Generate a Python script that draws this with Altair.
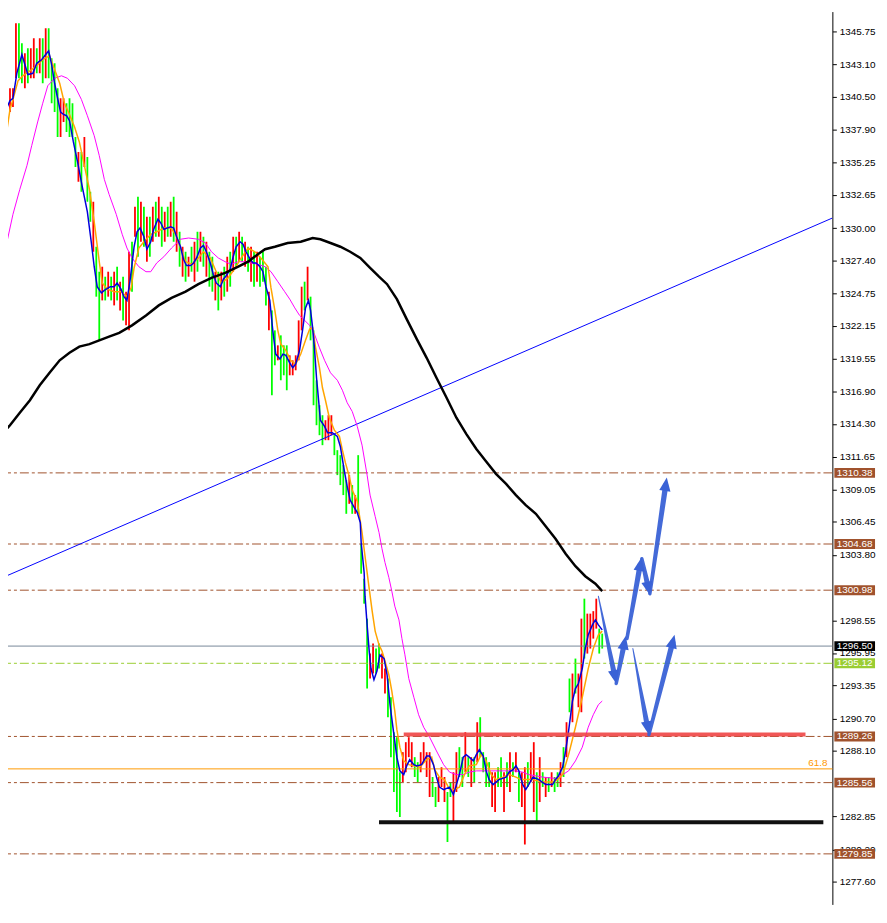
import math
import altair as alt
import pandas as pd

# ---------------- scales (plot area = reference pixels 8..839 x 8..908) ----------------
Y_MIN, Y_MAX = 1275.80, 1347.344
X_MIN, X_MAX = 7 / 3, 838 / 3
W, H = 831, 900

# ---------------- price bars (bar index = position in list) ----------------
bar_high = [
    1340.8, 1341.6, 1340.4, 1341.2, 1341.2, 1346.4, 1346.4, 1344.8, 1344.0, 1344.4,
    1344.4, 1345.2, 1344.4, 1345.2, 1345.2, 1346.0, 1346.0, 1343.6, 1343.2, 1341.2,
    1340.4, 1340.4, 1340.0, 1340.4, 1340.0, 1337.3, 1336.1, 1336.1, 1337.3, 1335.7,
    1332.9, 1332.1, 1328.5, 1326.5, 1326.9, 1326.1, 1326.5, 1326.1, 1326.5, 1326.9,
    1325.7, 1326.1, 1324.9, 1328.1, 1328.9, 1331.7, 1332.5, 1332.1, 1331.7, 1330.9,
    1330.9, 1331.7, 1332.1, 1332.5, 1331.7, 1331.3, 1331.7, 1332.1, 1332.5, 1331.3,
    1329.7, 1328.5, 1328.1, 1327.7, 1328.5, 1328.9, 1329.7, 1329.7, 1329.3, 1328.9,
    1328.1, 1327.7, 1326.5, 1326.5, 1326.5, 1326.9, 1327.7, 1328.1, 1329.3, 1329.3,
    1329.7, 1329.3, 1328.9, 1328.5, 1328.5, 1328.1, 1328.1, 1327.7, 1328.1, 1326.9,
    1324.9, 1323.4, 1321.8, 1320.6, 1321.4, 1320.6, 1320.6, 1319.8, 1319.4, 1319.8,
    1322.6, 1325.3, 1325.7, 1326.9, 1324.5, 1321.8, 1317.8, 1315.8, 1315.0, 1314.6,
    1315.0, 1315.0, 1313.4, 1312.2, 1311.8, 1311.0, 1309.8, 1310.2, 1309.4, 1308.6,
    1311.8, 1304.7, 1301.9, 1298.7, 1295.9, 1296.7, 1296.3, 1296.7, 1295.9, 1294.7,
    1293.9, 1292.4, 1289.6, 1289.2, 1286.4, 1288.0, 1288.8, 1289.2, 1288.8, 1287.6,
    1287.2, 1288.0, 1288.8, 1288.0, 1288.0, 1286.0, 1285.2, 1286.0, 1286.8, 1286.0,
    1284.8, 1285.6, 1286.4, 1288.0, 1288.4, 1287.6, 1289.6, 1287.6, 1287.6, 1287.6,
    1290.4, 1290.8, 1288.0, 1287.6, 1287.2, 1286.4, 1286.4, 1286.8, 1287.6, 1286.4,
    1287.2, 1288.0, 1287.2, 1288.0, 1286.4, 1286.4, 1286.8, 1287.2, 1288.0, 1288.8,
    1286.4, 1287.6, 1286.4, 1286.0, 1286.0, 1286.4, 1286.0, 1286.4, 1287.2, 1288.4,
    1290.4, 1293.9, 1294.3, 1295.5, 1294.3, 1298.7, 1300.3, 1299.1, 1299.1, 1299.3,
    1300.3, 1297.9, 1297.5,
]
bar_low = [
    1336.9, 1339.3, 1339.3, 1339.3, 1339.7, 1342.0, 1342.0, 1341.6, 1341.2, 1341.6,
    1342.0, 1342.0, 1342.4, 1342.4, 1341.6, 1342.0, 1342.0, 1340.0, 1339.3, 1337.3,
    1337.3, 1338.5, 1337.7, 1337.3, 1337.3, 1334.9, 1333.7, 1332.9, 1334.9, 1332.1,
    1330.5, 1328.1, 1324.5, 1321.0, 1324.2, 1324.2, 1324.5, 1324.2, 1323.8, 1324.2,
    1323.4, 1322.6, 1322.2, 1321.8, 1324.9, 1329.3, 1327.7, 1328.9, 1328.5, 1327.3,
    1327.7, 1328.9, 1329.3, 1329.3, 1328.5, 1328.9, 1329.3, 1329.3, 1328.9, 1328.1,
    1326.9, 1326.1, 1325.7, 1326.1, 1326.5, 1325.7, 1326.5, 1327.3, 1326.9, 1326.1,
    1325.3, 1324.9, 1324.2, 1323.4, 1324.2, 1324.5, 1324.9, 1325.3, 1326.5, 1326.9,
    1327.3, 1327.3, 1326.9, 1326.5, 1325.7, 1325.3, 1325.7, 1325.3, 1325.7, 1323.8,
    1321.8, 1316.6, 1319.0, 1319.4, 1317.8, 1318.2, 1317.0, 1318.2, 1318.2, 1318.6,
    1319.4, 1321.8, 1323.4, 1324.2, 1321.0, 1315.8, 1314.2, 1313.4, 1312.6, 1313.0,
    1313.0, 1313.4, 1311.8, 1310.2, 1309.4, 1308.6, 1307.1, 1307.9, 1307.1, 1307.1,
    1307.1, 1302.3, 1299.9, 1293.1, 1293.9, 1294.3, 1294.3, 1294.7, 1293.9, 1292.7,
    1290.8, 1287.6, 1284.8, 1283.2, 1282.8, 1285.6, 1286.4, 1287.6, 1286.8, 1286.0,
    1285.6, 1286.4, 1287.2, 1286.0, 1284.4, 1284.4, 1283.6, 1284.0, 1285.2, 1284.0,
    1280.8, 1284.4, 1282.4, 1284.8, 1286.0, 1285.2, 1286.4, 1286.0, 1285.2, 1285.6,
    1287.2, 1287.6, 1286.4, 1285.2, 1285.2, 1283.6, 1283.2, 1285.2, 1285.2, 1283.2,
    1285.2, 1284.8, 1286.0, 1286.4, 1284.0, 1283.6, 1280.6, 1285.2, 1285.6, 1283.2,
    1282.4, 1284.0, 1285.2, 1284.4, 1284.8, 1285.2, 1284.8, 1285.2, 1285.2, 1286.0,
    1287.6, 1291.2, 1290.4, 1292.7, 1291.6, 1291.2, 1295.5, 1295.9, 1296.3, 1297.1,
    1297.9, 1295.9, 1296.3,
]
bar_dir = ("RGGRRRGGRG" "RRGRGRGGGG" "RRGGGGRGRG" "GRGGRGRGRG" "RGRRGRGRGR"
           "GRGRGRGRGR" "GRGRGRGRGR" "GGRGRGRGRG" "RGRGRGRGGG" "RGGRGGGRRR"
           "RRGRGGGGGR" "RRGGGGGRGR" "GGGGRRGGRR" "GGGGGRRRRG" "GRRRRGGRRR"
           "GGRRGGRGRG" "RGGGGRRGGR" "GRGRGRRGRR" "GRGRGRGGRG" "RGRGRRGRRR"
           "RGG")

# ---------------- moving averages (bar, price) ----------------
fast_ma = [
    (-0.3, 1336.2), (1.3, 1339.3), (3, 1340.2), (4, 1340.4), (5.3, 1342.4), (7, 1343.9), (8, 1343.1),
    (9, 1342.3), (10.7, 1342.4), (12, 1343.2), (13.7, 1343.5), (15, 1343.9), (16, 1344.2), (17, 1343.1),
    (18, 1341.6), (19, 1340.4), (20, 1339.3), (21, 1339.1), (22, 1339.0), (23, 1338.6), (24.3, 1336.9),
    (25.7, 1335.3), (27.3, 1333.3), (29, 1331.3), (30.3, 1328.9), (31.3, 1326.9), (32.3, 1325.3),
    (33.7, 1324.8), (34.7, 1325.0), (36.7, 1325.3), (38, 1325.3), (39, 1325.6), (40.3, 1325.1),
    (41.3, 1324.5), (42.3, 1324.2), (43.3, 1325.7), (44.7, 1328.5), (45.7, 1329.7), (46.7, 1330.0),
    (48, 1329.3), (49, 1328.3), (50.3, 1328.9), (51.3, 1329.9), (52.7, 1330.7), (53.7, 1330.4),
    (54.7, 1329.9), (57, 1330.1), (58, 1330.0), (59, 1329.3), (60.3, 1328.5), (61.3, 1327.5),
    (62.3, 1327.0), (63.7, 1327.0), (64.7, 1327.2), (65.7, 1327.6), (67, 1328.4), (68, 1328.6),
    (69, 1328.1), (70.3, 1327.2), (71.3, 1326.3), (72.3, 1325.6), (73.7, 1325.3), (74.7, 1325.9),
    (75.7, 1326.2), (77, 1326.7), (78, 1327.7), (79, 1328.5), (80.3, 1328.9), (81.3, 1328.7),
    (82.3, 1328.1), (83.7, 1327.5), (84.7, 1327.2), (85.7, 1327.2), (87, 1326.9), (88, 1326.5),
    (89, 1325.3), (90.3, 1324.2), (91.3, 1321.8), (92.3, 1319.9), (93.7, 1319.5), (94.7, 1319.9),
    (95.7, 1319.8), (97, 1319.2), (98, 1318.8), (99, 1319.1), (100.3, 1320.2), (101.3, 1321.8),
    (102.3, 1323.6), (103.3, 1324.2), (104, 1323.4), (104.7, 1322.0), (105.3, 1320.4), (106, 1318.0),
    (106.7, 1316.2), (107.3, 1314.6), (108.7, 1314.1), (109.7, 1313.6), (111.3, 1313.6), (113, 1313.3),
    (114, 1312.5), (115.3, 1310.6), (116.3, 1309.3), (117.3, 1308.2), (118.7, 1307.6), (119.7, 1307.2),
    (120.7, 1306.4), (121, 1304.8), (122, 1302.4), (122.3, 1300.5), (123, 1298.2), (123.7, 1296.1),
    (124.3, 1294.7), (125.3, 1293.8), (126.3, 1294.5), (127.3, 1295.8), (128.7, 1295.5), (129.7, 1294.2),
    (130.7, 1291.8), (132, 1289.4), (133, 1287.6), (134, 1286.5), (135.3, 1286.2), (136.3, 1286.9),
    (137.3, 1287.4), (138.7, 1287.0), (139.7, 1286.9), (141.3, 1287.0), (143, 1287.7), (144, 1287.7),
    (145.3, 1287.0), (146.3, 1286.0), (147.3, 1285.2), (148.7, 1285.0), (150.7, 1285.2), (152, 1284.6),
    (153, 1285.4), (154, 1286.2), (155.3, 1287.6), (156.3, 1287.8), (157.3, 1287.6), (158.7, 1287.3),
    (159.7, 1287.8), (160.7, 1288.2), (162, 1287.7), (163, 1286.5), (164, 1285.8), (165.3, 1285.4),
    (167.3, 1285.8), (169.7, 1286.0), (170.7, 1286.4), (172, 1286.6), (173, 1286.9), (174, 1286.5),
    (175.3, 1285.4), (176.3, 1285.0), (177.3, 1285.4), (178.7, 1286.0), (180.7, 1285.8), (183, 1285.4),
    (185.3, 1285.4), (186.3, 1285.8), (187.3, 1286.1), (188.7, 1286.8), (189.7, 1288.1), (190.7, 1289.7),
    (192, 1292.1), (193, 1293.1), (194, 1293.5), (195.3, 1294.7), (196.3, 1296.3), (197.3, 1297.4),
    (198.7, 1298.2), (199.7, 1298.6), (200.7, 1298.2), (202, 1297.8),
]
mid_ma = [
    (-0.3, 1332.3), (0.7, 1335.5), (2, 1337.9), (3, 1339.5), (4, 1340.3), (5.7, 1341.8), (7.3, 1342.2),
    (9.7, 1342.6), (12, 1343.0), (14, 1343.5), (16.3, 1343.8), (18, 1342.7), (19.7, 1341.6), (21.3, 1340.0),
    (23, 1339.1), (24.7, 1338.1), (26.3, 1336.9), (28, 1335.0), (29.7, 1333.1), (31.3, 1330.5), (33, 1327.3),
    (34, 1325.6), (35.7, 1325.1), (38, 1324.9), (40.3, 1324.9), (42.3, 1324.5), (43.7, 1325.2), (44.7, 1326.8),
    (46.3, 1328.4), (48, 1328.9), (50.3, 1329.5), (52.3, 1329.7), (54.7, 1330.0), (57, 1330.0), (58.7, 1329.5),
    (60.3, 1328.4), (62, 1327.3), (64, 1327.1), (66.3, 1327.6), (68, 1328.1), (70.3, 1327.6), (72.3, 1326.5),
    (74, 1325.6), (76.3, 1326.0), (78.7, 1326.8), (80.7, 1327.6), (83, 1328.4), (85.3, 1328.1), (87.3, 1327.6),
    (89.7, 1326.9), (90.7, 1325.2), (92, 1323.4), (93, 1321.8), (94, 1320.7), (95.7, 1320.2), (97.3, 1319.4),
    (99, 1319.1), (100.7, 1319.9), (102.3, 1321.0), (103.7, 1321.9), (104.7, 1322.0), (105.7, 1320.4),
    (107, 1318.8), (108, 1317.2), (109, 1316.2), (110.3, 1314.8), (112, 1313.8), (113.7, 1313.3),
    (114.7, 1312.2), (115.7, 1311.2), (117, 1310.1), (118, 1309.0), (119.7, 1308.1), (121.3, 1305.6),
    (122.3, 1303.7), (123.7, 1301.1), (124.7, 1299.3), (125.7, 1297.7), (127, 1296.6), (128, 1296.1),
    (129, 1295.3), (130.3, 1294.2), (131.3, 1292.9), (132.3, 1291.3), (133, 1289.8), (134, 1288.4),
    (135.3, 1287.3), (137, 1287.0), (138.7, 1286.9), (140.7, 1286.8), (143, 1287.4), (144.7, 1287.6),
    (145.7, 1286.6), (147.3, 1286.0), (149, 1285.8), (150.7, 1285.0), (152.3, 1285.0), (154, 1285.2),
    (155.7, 1286.2), (157.3, 1286.9), (159.7, 1287.0), (161.3, 1287.8), (163, 1287.3), (164.7, 1286.2),
    (166.3, 1285.8), (168.7, 1286.0), (170.7, 1286.2), (173, 1286.0), (174.7, 1285.8), (176.3, 1285.8),
    (178.7, 1285.8), (182, 1285.6), (185.3, 1285.6), (187, 1285.8), (188.7, 1286.2), (190.7, 1287.8),
    (193, 1290.0), (195.3, 1292.4), (197.3, 1294.7), (199, 1296.3), (200.7, 1297.4), (202, 1297.7),
]
slow_ma = [
    (-0.3, 1327.3), (2, 1328.9), (4, 1331.1), (6.3, 1333.1), (8.7, 1335.0), (10.3, 1336.6), (12.3, 1338.5),
    (14, 1340.0), (15.7, 1341.4), (18, 1342.0), (20.3, 1342.2), (22.3, 1342.0), (24.7, 1341.4), (27, 1340.3),
    (29, 1339.0), (31.3, 1337.4), (33, 1335.8), (34.7, 1333.9), (36.3, 1332.7), (38.7, 1331.1), (40.7, 1329.5),
    (42.3, 1328.4), (44, 1327.6), (46.3, 1326.9), (48.7, 1326.5), (50.3, 1326.5), (52.3, 1327.2), (54.7, 1327.7),
    (57.3, 1328.4), (60.3, 1329.1), (63, 1329.2), (66.3, 1329.1), (68.7, 1328.8), (70.7, 1328.1), (73, 1327.6),
    (75.3, 1327.3), (77.3, 1327.1), (79.7, 1327.3), (82, 1327.3), (84, 1327.2), (86.3, 1327.1), (88.7, 1326.9),
    (90.7, 1326.5), (93, 1325.7), (95.3, 1324.9), (97, 1324.3), (98.7, 1323.6), (100.3, 1323.0), (102, 1322.6),
    (103.7, 1322.2), (105.3, 1321.5), (107, 1320.4), (108.7, 1319.4), (110.7, 1318.4), (113, 1317.8),
    (114.7, 1317.0), (116.3, 1316.0), (118, 1315.3), (119.7, 1314.1), (121.3, 1312.6), (123, 1310.2),
    (124, 1308.6), (125.7, 1306.9), (127, 1305.6), (128, 1304.3), (129, 1303.2), (130.3, 1302.0),
    (131.3, 1300.9), (132.3, 1299.7), (133.7, 1298.6), (134.7, 1297.1), (135.7, 1295.8), (137, 1293.9),
    (138.7, 1292.4), (140.3, 1291.0), (142, 1290.0), (144, 1289.2), (146.3, 1288.1), (148.7, 1287.0),
    (150.7, 1286.4), (153, 1286.2), (155.3, 1286.2), (157.3, 1286.4), (159.7, 1286.5), (166.3, 1286.5),
    (172.7, 1286.5), (175.3, 1286.4), (177.3, 1286.2), (179.7, 1286.1), (182, 1286.0), (186.3, 1285.9),
    (188.7, 1286.2), (190.7, 1286.5), (193, 1287.3), (195.3, 1288.4), (197.3, 1290.0), (199, 1291.0),
    (200.7, 1291.8), (202, 1292.1),
]
long_ma = [
    (-0.3, 1313.3), (3, 1314.2), (6.3, 1315.2), (9.7, 1316.2), (13, 1317.4), (16.3, 1318.4), (19.7, 1319.4),
    (23, 1320.0), (26.3, 1320.5), (29.7, 1320.7), (33, 1321.0), (36.3, 1321.3), (39.7, 1321.6), (44, 1322.2),
    (48.7, 1323.0), (53, 1323.8), (57.3, 1324.4), (62, 1324.9), (66.3, 1325.5), (70.7, 1326.0), (75.3, 1326.4),
    (79.7, 1326.9), (83, 1327.3), (86.3, 1327.9), (88.7, 1328.3), (92, 1328.5), (96.3, 1328.8), (100.7, 1328.9),
    (104.7, 1329.2), (107.3, 1329.1), (110.7, 1328.8), (114, 1328.5), (117.3, 1328.1), (120.7, 1327.6),
    (124, 1326.8), (127, 1326.1), (129.7, 1325.5), (133, 1324.3), (136.3, 1322.7), (139.7, 1321.1),
    (143, 1319.6), (146.3, 1318.0), (149.7, 1316.4), (153, 1314.8), (156.3, 1313.5), (159.7, 1312.3),
    (163, 1311.3), (166.3, 1310.3), (169.7, 1309.5), (173, 1308.6), (176.3, 1307.8), (179.7, 1307.1),
    (183, 1306.1), (186.3, 1305.1), (189.7, 1303.9), (193, 1302.9), (196.3, 1302.1), (199.7, 1301.5),
    (202, 1300.9),
]

# ---------------- drawn objects ----------------
trend_line = [(-0.33, 1301.9), (279.33, 1330.8)]
brown_levels = [1310.38, 1304.68, 1300.98, 1289.26, 1285.56, 1279.85]
gray_level = 1296.50
green_level = 1295.12
fib_level = 1286.66
fib_text = "61.8"
red_zone = (135.3, 270.3, 1289.41)
support = (127.0, 276.3, 1282.39)
# arrows: x1, y1, x2 (tip), y2 (tip), thin tail?
arrows = [
    (200.7, 1300.5, 206.7, 1293.5, True),
    (206.7, 1293.5, 209.9, 1297.3, False),
    (210.3, 1297.1, 215.2, 1303.6, False),
    (215.3, 1303.5, 218.0, 1300.6, False),
    (218.0, 1300.7, 223.7, 1310.0, False),
    (212.3, 1296.3, 217.7, 1289.4, True),
    (217.7, 1289.4, 226.3, 1297.4, False),
]
price_tags = [
    (1310.38, "#A0522D"), (1304.68, "#A0522D"), (1300.98, "#A0522D"),
    (1296.50, "#000000"), (1295.12, "#9ACD32"), (1289.26, "#A0522D"),
    (1285.56, "#A0522D"), (1279.85, "#A0522D"),
]
tick_values = [1345.75, 1343.10, 1340.50, 1337.90, 1335.25, 1332.65, 1330.00, 1327.40,
               1324.75, 1322.15, 1319.55, 1316.90, 1314.30, 1311.65, 1309.05, 1306.45,
               1303.80, 1298.55, 1295.95, 1293.35, 1290.70, 1288.10, 1282.85,
               1280.20, 1277.60, 1275.00]

FONT = "Liberation Sans"
ARROW = "#3A62D6"

xs = alt.Scale(domain=[X_MIN, X_MAX], nice=False, zero=False)
ys = alt.Scale(domain=[Y_MIN, Y_MAX], nice=False, zero=False)
PX_X = W / (X_MAX - X_MIN)
PX_Y = H / (Y_MAX - Y_MIN)

Y_AXIS = alt.Axis(
    orient="right", values=tick_values, format=".2f", grid=False, title=None,
    domainColor="#000000", domainWidth=1, tickColor="#000000", tickSize=4, tickWidth=1,
    labelFont=FONT, labelFontSize=10, labelColor="#000000", labelPadding=3,
    labelAlign="left", labelBaseline="middle", labelOverlap=False, labelFlush=False,
    labelBound=False)


def X(f="x"):
    return alt.X(f"{f}:Q", scale=xs, axis=None)


def Y(f="y"):
    return alt.Y(f"{f}:Q", scale=ys, axis=Y_AXIS)


# ---------------- frames ----------------
bars = pd.DataFrame({"x": list(range(len(bar_high))), "hi": bar_high, "lo": bar_low,
                     "d": list(bar_dir)})
levels = pd.DataFrame({"y": brown_levels})

trail_rows, head_rows = [], []
for k, (x1, y1, x2, y2, thin) in enumerate(arrows):
    dx = (x2 - x1) * PX_X
    dy = -(y2 - y1) * PX_Y
    L = math.hypot(dx, dy)
    ang = math.degrees(math.atan2(dx, -dy)) % 360
    back = 8.0 / L
    xe, ye = x2 - (x2 - x1) * back, y2 - (y2 - y1) * back
    trail_rows.append({"a": k, "s": 0, "x": x1, "y": y1, "w": 1.0 if thin else 3.5})
    trail_rows.append({"a": k, "s": 1, "x": xe, "y": ye, "w": 5.5})
    head_rows.append({"x": x2, "y": y2, "ang": ang})
trail_df = pd.DataFrame(trail_rows)
head_df = pd.DataFrame(head_rows)

tags = pd.DataFrame({"v": [t[0] for t in price_tags], "c": [t[1] for t in price_tags]})
tags["label"] = tags["v"].map(lambda v: f"{v:.2f}")
HALF = 5.0 / PX_Y

# ---------------- layers ----------------
brown = alt.Chart(levels).mark_rule(color="#A0522D", strokeWidth=1, strokeDash=[9, 3, 3, 3]).encode(y=Y())
gray = alt.Chart(pd.DataFrame({"y": [gray_level]})).mark_rule(color="#778899", strokeWidth=1).encode(y=Y())
green = alt.Chart(pd.DataFrame({"y": [green_level]})).mark_rule(
    color="#9ACD32", strokeWidth=1, strokeDash=[9, 3, 3, 3]).encode(y=Y())
fib = alt.Chart(pd.DataFrame({"y": [fib_level]})).mark_rule(color="#FF9900", strokeWidth=1).encode(y=Y())
fib_lbl = alt.Chart(pd.DataFrame({"y": [fib_level], "t": [fib_text]})).mark_text(
    color="#FF9900", font=FONT, fontSize=10, align="right", baseline="bottom", dy=-1
).encode(x=alt.value(826), y=Y(), text="t:N")

trend = alt.Chart(pd.DataFrame(trend_line, columns=["x", "y"])).mark_line(
    color="#0000FF", strokeWidth=1, clip=True).encode(x=X(), y=Y())

bar_layer = alt.Chart(bars).mark_rule(strokeWidth=1.8, clip=True).encode(
    x=X(),
    y=Y("lo"),
    y2="hi:Q",
    color=alt.Color("d:N", scale=alt.Scale(domain=["G", "R"], range=["#00FF00", "#FF0000"]), legend=None),
)


def ma(data, color, width):
    return alt.Chart(pd.DataFrame(data, columns=["x", "y"])).mark_line(
        color=color, strokeWidth=width, clip=True).encode(x=X(), y=Y())


slow = ma(slow_ma, "#FF00FF", 1)
mid = ma(mid_ma, "#FFA500", 1.5)
fast = ma(fast_ma, "#0000DD", 1.5)
long_ = ma(long_ma, "#000000", 2.5)

red_seg = alt.Chart(pd.DataFrame({"x": [red_zone[0]], "x2": [red_zone[1]], "y": [red_zone[2]]})).mark_rule(
    color="#F04545", strokeWidth=4, opacity=0.9).encode(x=X(), x2="x2:Q", y=Y())
sup_seg = alt.Chart(pd.DataFrame({"x": [support[0]], "x2": [support[1]], "y": [support[2]]})).mark_rule(
    color="#111111", strokeWidth=4).encode(x=X(), x2="x2:Q", y=Y())

trails = alt.Chart(trail_df).mark_trail(color=ARROW, opacity=0.95).encode(
    x=X(), y=Y(), size=alt.Size("w:Q", scale=None, legend=None), detail="a:N", order="s:Q")
heads = alt.Chart(head_df).mark_point(
    shape="M0,0L-0.42,1L0.42,1Z", size=729, filled=True, opacity=1, color=ARROW, strokeWidth=0
).encode(x=X(), y=Y(), angle=alt.Angle("ang:Q", scale=None))

tag_box = alt.Chart(tags).transform_calculate(
    top=f"datum.v + {HALF}", bot=f"datum.v - {HALF}"
).mark_rect().encode(
    x=alt.value(833), x2=alt.value(874), y=Y("top"), y2="bot:Q",
    color=alt.Color("c:N", scale=None, legend=None))
tag_txt = alt.Chart(tags).mark_text(
    color="white", font=FONT, fontSize=10, align="center", baseline="middle"
).encode(x=alt.value(853.5), y=Y("v"), text="label:N")

chart = alt.layer(
    bar_layer, brown, gray, green, fib, fib_lbl, trend, slow, mid, fast, long_,
    red_seg, sup_seg, trails, heads, tag_box, tag_txt,
).properties(
    width=W, height=H, autosize="none",
    padding={"left": 0, "top": 0, "right": 47, "bottom": 0},
    background="white",
).configure_view(strokeWidth=0)

chart.save("out.html", embed_options={"renderer": "svg", "actions": False})
